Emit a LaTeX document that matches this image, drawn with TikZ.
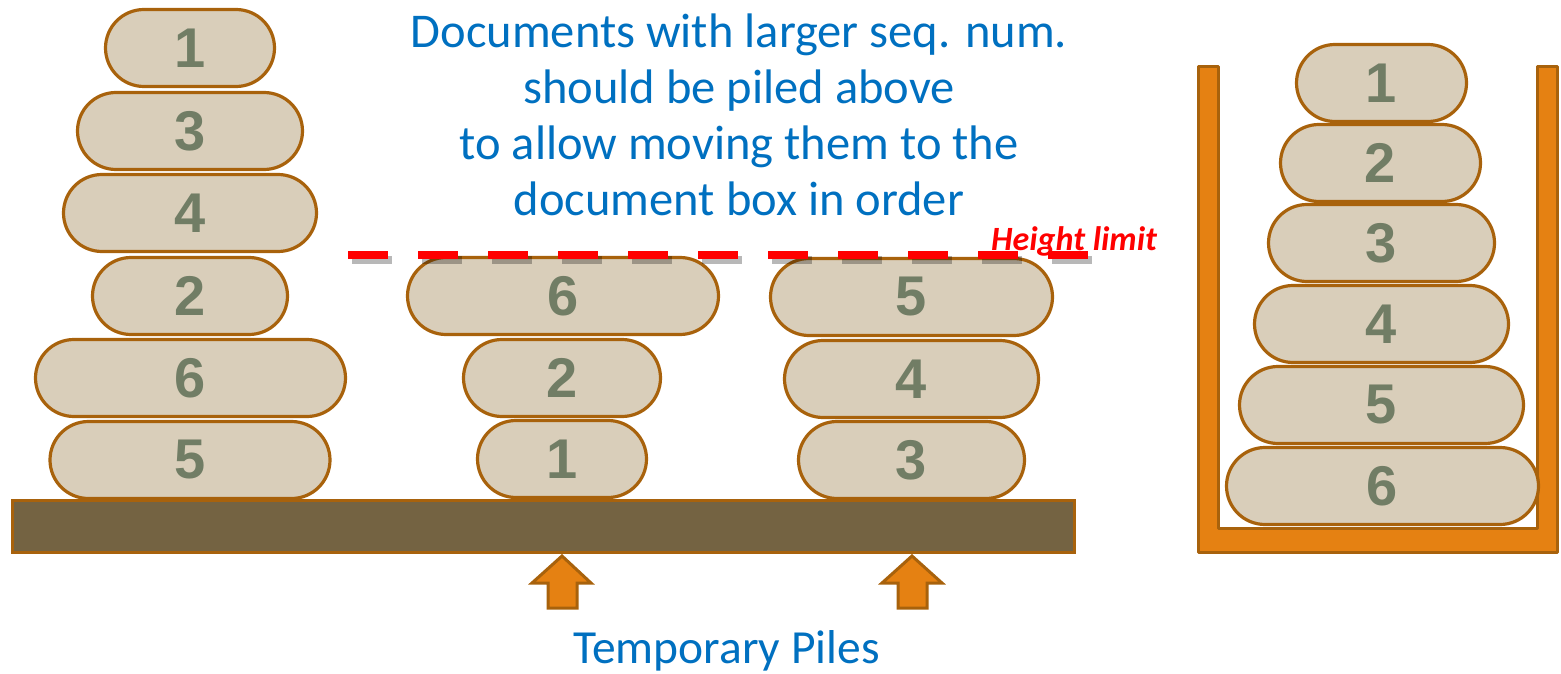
\documentclass[tikz,border=0pt]{standalone}
\usepackage{fontspec}
\usetikzlibrary{shapes.misc}
\newfontfamily\calib{Carlito}
\newfontfamily\digfont{Liberation Sans}
\definecolor{stonefill}{RGB}{217,206,186}
\definecolor{stoneline}{RGB}{168,98,12}
\definecolor{digit}{RGB}{113,125,101}
\definecolor{basefill}{RGB}{116,99,66}
\definecolor{orng}{RGB}{229,129,18}
\definecolor{titleblue}{RGB}{0,112,192}
\definecolor{limitred}{RGB}{255,0,0}
\tikzset{
  stone/.style={rounded rectangle, draw=stoneline, fill=stonefill, line width=3.2pt,
    minimum height=77pt, inner sep=0pt, text=digit,
    font=\digfont\bfseries\fontsize{56}{56}\selectfont},
  shelf/.style={draw=stoneline, fill=basefill, line width=3pt},
  boxframe/.style={draw=stoneline, fill=orng, line width=3pt, line join=round},
  uparrow/.style={draw=stoneline, fill=orng, line width=3pt},
  limitline/.style={draw=limitred, line width=8pt, dash pattern=on 40pt off 30pt},
  limitshadow/.style={draw=black, opacity=0.28, line width=8pt, dash pattern=on 40pt off 30pt},
  bluetext/.style={text=titleblue, inner sep=0pt},
}
\begin{document}
\begin{tikzpicture}[x=1pt,y=-1pt]
\useasboundingbox (0,0) rectangle (1561,674);
% shelf
\draw[shelf] (12,500) rectangle (1074,552);
% document box
\draw[boxframe] (1198,67) -- (1198,552) -- (1557,552) -- (1557,67) -- (1537,67)
  -- (1537,528) -- (1218,528) -- (1218,67) -- cycle;
% left pile
\node[stone, minimum width=280] (L5) at (190,460) {5};
\node[stone, minimum width=310] (L6) at (190.5,378) {6};
\node[stone, minimum width=195] (L2) at (190,296) {2};
\node[stone, minimum width=253] (L4) at (190,213) {4};
\node[stone, minimum width=225] (L3) at (190,131) {3};
\node[stone, minimum width=169] (L1) at (190,48) {1};
% middle pile
\node[stone, minimum width=169] (M1) at (562,459) {1};
\node[stone, minimum width=197] (M2) at (562,378) {2};
\node[stone, minimum width=311] (M6) at (563,296) {6};
% right pile
\node[stone, minimum width=226] (R3) at (911.5,460) {3};
\node[stone, minimum width=254] (R4) at (911.5,379) {4};
\node[stone, minimum width=282] (R5) at (911.5,297) {5};
% document box pile
\node[stone, minimum width=312] (B6) at (1382.5,486) {6};
\node[stone, minimum width=284] (B5) at (1381.5,405) {5};
\node[stone, minimum width=254] (B4) at (1381.5,324) {4};
\node[stone, minimum width=226] (B3) at (1381.5,243) {3};
\node[stone, minimum width=200] (B2) at (1380.5,163) {2};
\node[stone, minimum width=170] (B1) at (1381.5,83) {1};
% height limit
\coordinate (hlA) at (348,255);
\coordinate (hlB) at (1088,255);
\node[anchor=base west, text=limitred, inner sep=0pt,
  font=\calib\bfseries\itshape\fontsize{34}{34}\selectfont] (hltext) at (991,250) {Height limit};
\draw[limitshadow] ([shift={(4,5)}]hlA) -- ([shift={(4,5)}]hlB);
\draw[limitline] (hlA) -- (hlB);
% title
\node[bluetext, anchor=base, align=center,
  font=\calib\fontsize{48.5}{56}\selectfont] (title) at (739,215)
  {Documents with larger seq. num.\\should be piled above\\to allow moving them to the\\document box in order};
% arrows
\draw[uparrow] (562,556) -- (591,583) -- (577,583) -- (577,608) -- (548,608) -- (548,583) -- (532,583) -- cycle;
\draw[uparrow] (912,556) -- (942,583) -- (927,583) -- (927,608) -- (898,608) -- (898,583) -- (882,583) -- cycle;
% bottom label
\node[bluetext, anchor=base, font=\calib\fontsize{47.5}{47.5}\selectfont] (temp) at (726.5,663) {Temporary Piles};
\end{tikzpicture}
\end{document}
